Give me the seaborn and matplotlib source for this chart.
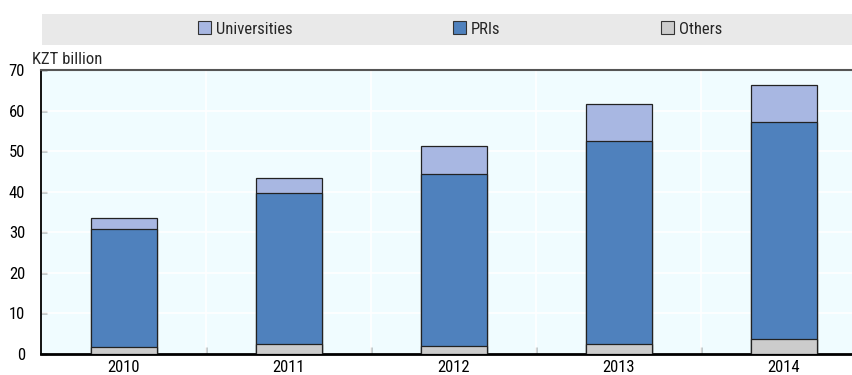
import matplotlib
matplotlib.use("Agg")
import matplotlib.pyplot as plt
from matplotlib import font_manager
from matplotlib.patches import Patch, Rectangle
import pandas as pd
import seaborn as sns

# R&D expenditure by performing sector, KZT billion
years = ["2010", "2011", "2012", "2013", "2014"]
others = [1.7, 2.5, 2.0, 2.5, 3.6]
pris = [29.1, 37.1, 42.3, 50.1, 53.7]
universities = [2.6, 3.8, 7.0, 9.1, 9.0]

series_names = ["Universities", "PRIs", "Others"]
colors = {"Universities": "#a8b7e2", "PRIs": "#4f81bd", "Others": "#cccccc"}

df = pd.DataFrame({"year": years, "Others": others, "PRIs": pris,
                   "Universities": universities})
df["lvl_others"] = df["Others"]
df["lvl_pris"] = df["Others"] + df["PRIs"]
df["lvl_total"] = df["lvl_pris"] + df["Universities"]

sns.set_theme(style="white")

# prefer a narrow sans face when one is available
installed = {f.name for f in font_manager.fontManager.ttflist}
narrow = [n for n in ["Liberation Sans Narrow", "Arial Narrow", "Roboto Condensed",
                      "DejaVu Sans Condensed", "Open Sans Condensed"] if n in installed]
if narrow:
    plt.rcParams["font.family"] = [narrow[0], "Liberation Sans", "DejaVu Sans"]
    fs = 12
else:
    plt.rcParams["font.family"] = ["Liberation Sans", "DejaVu Sans"]
    fs = 10.8
plt.rcParams["font.size"] = fs

fig = plt.figure(figsize=(8.53, 3.75), dpi=100)
ax = fig.add_axes([41 / 853, 21 / 375, 825 / 853, 284 / 375])
ax.set_facecolor("#f0fcff")

# stacked bars: draw cumulative levels from the top down
for col, name in [("lvl_total", "Universities"), ("lvl_pris", "PRIs"),
                  ("lvl_others", "Others")]:
    sns.barplot(data=df, x="year", y=col, color=colors[name], width=0.4,
                edgecolor="#222222", linewidth=0.9, saturation=1, ax=ax,
                zorder=3)

ax.set_ylim(0, 70)
ax.set_xlim(-0.5, len(years) - 0.5)
ax.set_yticks(range(0, 71, 10))
ax.set_xlabel("")
ax.set_ylabel("")

# white grid: horizontal at ticks, vertical at category boundaries
for v in range(10, 70, 10):
    ax.axhline(v, color="white", lw=1.2, zorder=1)
for b in range(1, len(years)):
    ax.axvline(b - 0.5, color="white", lw=1.2, zorder=1)

ax.tick_params(axis="y", direction="in", length=4, width=1, color="black",
               labelsize=fs, pad=11.5, left=True)
ax.tick_params(axis="x", length=0, labelsize=fs, pad=4)
for lab in ax.get_yticklabels() + ax.get_xticklabels():
    lab.set_color("black")

# minor ticks on the boundaries between years
ax.set_xticks([b - 0.5 for b in range(1, len(years))], minor=True)
ax.tick_params(axis="x", which="minor", direction="in", length=5, width=1,
               color="black", bottom=True)

for side in ["left", "bottom", "top", "right"]:
    ax.spines[side].set_visible(True)
ax.spines["left"].set_color("black")
ax.spines["left"].set_linewidth(1.3)
ax.spines["bottom"].set_color("black")
ax.spines["bottom"].set_linewidth(2.0)
ax.spines["top"].set_color("#555555")
ax.spines["top"].set_linewidth(1.5)
ax.spines["right"].set_visible(False)

fig.text(32 / 853, 1 - 59 / 375, "KZT billion", fontsize=fs,
         ha="left", va="center")

# legend band across the top
fig.patches.append(Rectangle((42 / 853, 1 - 45 / 375), 1 - 42 / 853, 31 / 375,
                             transform=fig.transFigure, facecolor="#e9e9e9",
                             edgecolor="none", zorder=0))
handles = [Patch(facecolor=colors[n], edgecolor="#333333", linewidth=0.8,
                 label=n) for n in series_names]
fig.legend(handles=handles, loc="center", ncol=3,
           bbox_to_anchor=(460 / 853, 1 - 29 / 375), frameon=False,
           handlelength=0.8, handleheight=0.8, handletextpad=0.3,
           columnspacing=9.6, fontsize=fs)

fig.savefig("out.png", dpi=100)
